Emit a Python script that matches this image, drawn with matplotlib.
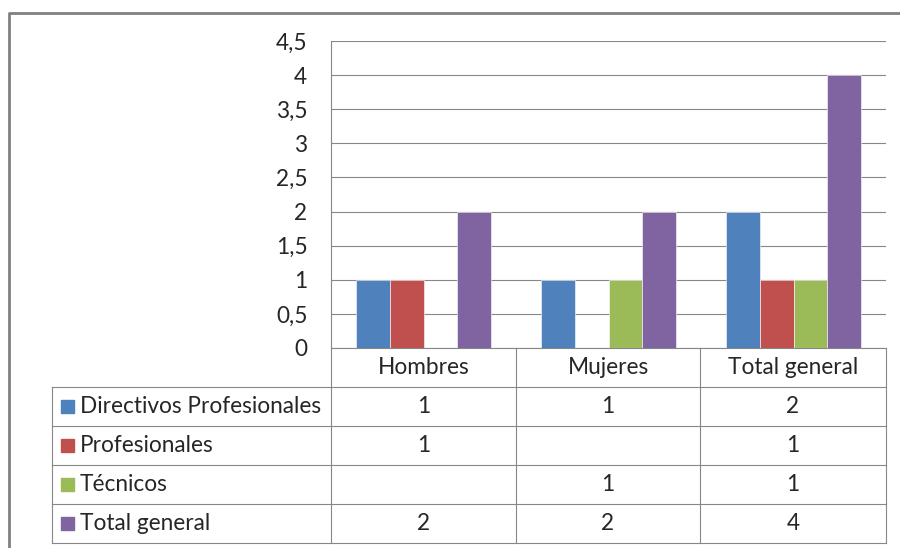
import numpy as np
import matplotlib.pyplot as plt
from matplotlib.patches import Rectangle

plt.rcParams['font.family'] = ['Lato', 'DejaVu Sans']

# data
categories = ["Hombres", "Mujeres", "Total general"]
series = ["Directivos Profesionales", "Profesionales", "Técnicos", "Total general"]
directivos = [1, 1, 2]
profesionales = [1, None, 1]
tecnicos = [None, 1, 1]
total = [2, 2, 4]
values = [directivos, profesionales, tecnicos, total]
colors = ["#4F81BD", "#C0504D", "#9BBB59", "#8064A2"]
yticks = [0, 0.5, 1, 1.5, 2, 2.5, 3, 3.5, 4, 4.5]

W, H = 900, 548
fs = 16.3
txt = "#262626"
grid_c = "#878787"

fig = plt.figure(figsize=(W / 100, H / 100), dpi=100)

# plot area in pixel coords
x0, x1, ytop, ybot = 331, 886, 41, 348
ax = fig.add_axes([x0 / W, 1 - ybot / H, (x1 - x0) / W, (ybot - ytop) / H])

n = len(series)
w = 1 / (n + 1.5)
xc = np.arange(len(categories)) + 0.5
for i, (vals, c) in enumerate(zip(values, colors)):
    for j, v in enumerate(vals):
        if v is None:
            continue
        ax.bar(xc[j] + (i - (n - 1) / 2) * w, v, width=w, color=c,
               edgecolor="#ffffff", linewidth=0.4, zorder=3)

ax.set_xlim(0, len(categories))
ax.set_ylim(0, 4.5)
ax.set_yticks(yticks)
ax.set_yticklabels([f"{t:g}".replace(".", ",") for t in yticks], fontsize=fs, color=txt)
ax.tick_params(axis="y", length=0, pad=17)
ax.set_xticks([])
ax.grid(axis="y", color=grid_c, linewidth=0.8, zorder=0)
for s in ["top", "right"]:
    ax.spines[s].set_visible(False)
for s in ["left", "bottom"]:
    ax.spines[s].set_color(grid_c)
    ax.spines[s].set_linewidth(0.8)

# data table drawn in pixel coordinates
tab = fig.add_axes([0, 0, 1, 1], zorder=5)
tab.set_xlim(0, W)
tab.set_ylim(H, 0)
tab.axis("off")
tab.patch.set_alpha(0)

col_x = [52, x0, 516, 700, x1]
row_h = 39
head_top = ybot
rows_top = head_top + row_h
lc = dict(color=grid_c, linewidth=0.8)

# vertical lines
tab.plot([x0, x0], [head_top, rows_top + n * row_h], **lc)
for cx in col_x[2:]:
    tab.plot([cx, cx], [head_top, rows_top + n * row_h], **lc)
tab.plot([col_x[0], col_x[0]], [rows_top, rows_top + n * row_h], **lc)
# horizontal lines
for r in range(n + 1):
    yy = rows_top + r * row_h
    tab.plot([col_x[0], x1], [yy, yy], **lc)

for j, cat in enumerate(categories):
    cxm = (col_x[j + 1] + col_x[j + 2]) / 2
    tab.text(cxm, head_top + row_h / 2, cat, ha="center", va="center",
             fontsize=fs, color=txt)

for i, (name, vals, c) in enumerate(zip(series, values, colors)):
    yy = rows_top + i * row_h + row_h / 2
    tab.add_patch(Rectangle((61, yy - 6.5), 13, 13, color=c))
    tab.text(80, yy, name, ha="left", va="center", fontsize=fs, color=txt)
    for j, v in enumerate(vals):
        if v is None:
            continue
        cxm = (col_x[j + 1] + col_x[j + 2]) / 2
        tab.text(cxm, yy, str(v), ha="center", va="center", fontsize=fs, color=txt)

# outer chart border
tab.plot([9, 9, W + 5], [H + 5, 13, 13], color="#808080", linewidth=2)

fig.savefig("out.png", dpi=100)
